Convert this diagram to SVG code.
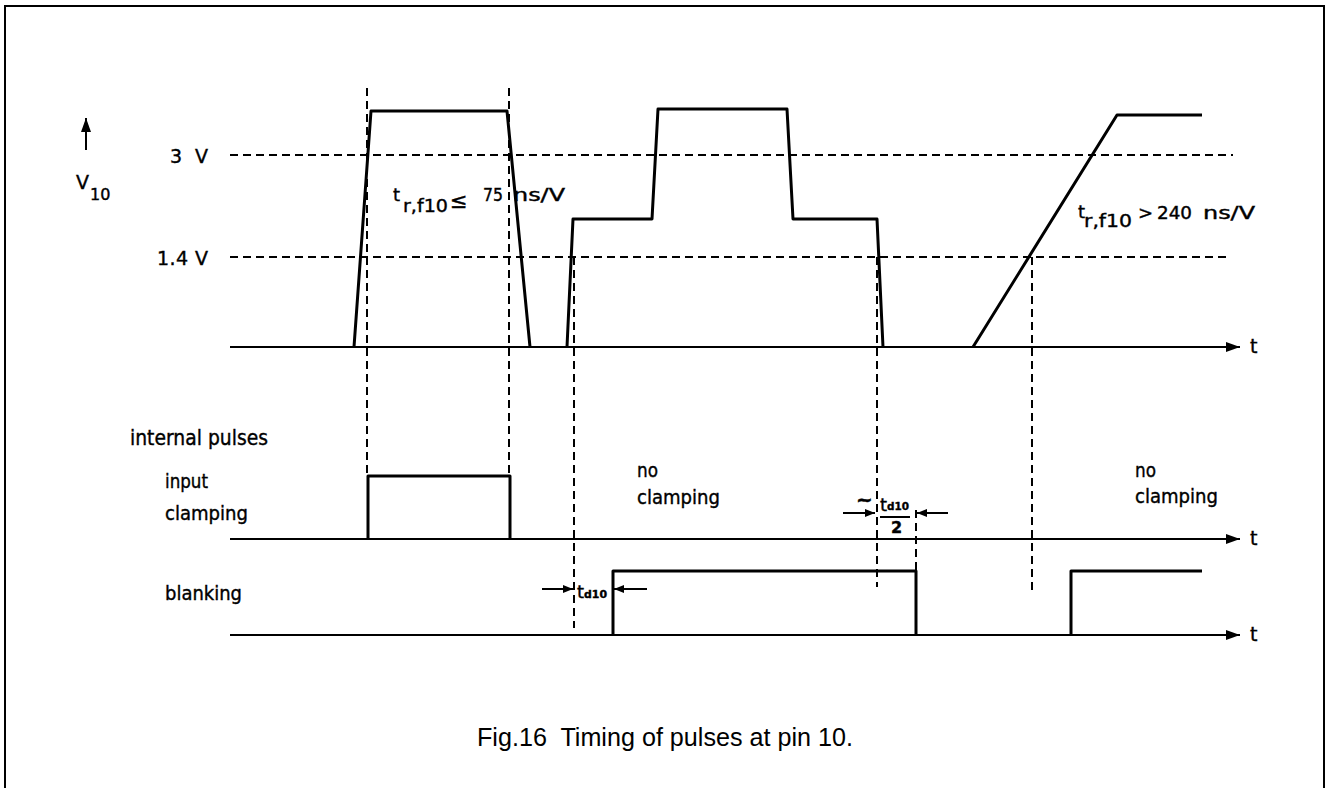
<svg xmlns="http://www.w3.org/2000/svg" width="1326" height="788" viewBox="0 0 1326 788">
<style>
.sig{fill:none;stroke:#000;stroke-width:3;stroke-linejoin:round}
.axis{stroke:#000;stroke-width:2;fill:none}
.dash{stroke:#000;stroke-width:2;stroke-dasharray:8 5;fill:none}
.lbl{font-family:"DejaVu Sans","Liberation Sans",sans-serif;fill:#000;stroke:#000;stroke-width:0.4}
.cap{font-family:"Liberation Sans",Arial,sans-serif;fill:#000;font-size:25px}
</style>
<defs>
<marker id="ah" markerUnits="userSpaceOnUse" markerWidth="14" markerHeight="10" refX="14" refY="5" orient="auto">
<path d="M0,0 L14,5 L0,10 z" fill="#000"/>
</marker>
<marker id="sa" markerUnits="userSpaceOnUse" markerWidth="10" markerHeight="8" refX="10" refY="4" orient="auto">
<path d="M0,0 L10,4 L0,8 z" fill="#000"/>
</marker>
</defs>
<rect width="1326" height="788" fill="#fff"/>
<path d="M5,800 V6 H1324 V800" fill="none" stroke="#000" stroke-width="2"/>

<g id="connectors">
<line class="axis" x1="230" y1="347" x2="1240" y2="347" marker-end="url(#ah)"/>
<line class="axis" x1="230" y1="539" x2="1240" y2="539" marker-end="url(#ah)"/>
<line class="axis" x1="230" y1="635" x2="1240" y2="635" marker-end="url(#ah)"/>
<line class="axis" x1="86" y1="150" x2="86" y2="118" marker-end="url(#ah)"/>
<line class="dash" x1="230" y1="155" x2="1233" y2="155"/>
<line class="dash" x1="230" y1="257" x2="1227" y2="257"/>
<line class="dash" x1="367" y1="88" x2="367" y2="476"/>
<line class="dash" x1="509" y1="88" x2="509" y2="476"/>
<line class="dash" x1="574" y1="257" x2="574" y2="628"/>
<line class="dash" x1="877" y1="257" x2="877" y2="587"/>
<line class="dash" x1="916" y1="510" x2="916" y2="571"/>
<line class="dash" x1="1032" y1="257" x2="1032" y2="590"/>
<line class="axis" x1="542" y1="589" x2="573" y2="589" marker-end="url(#sa)"/>
<line class="axis" x1="647" y1="589" x2="614" y2="589" marker-end="url(#sa)"/>
<line class="axis" x1="843" y1="513" x2="875" y2="513" marker-end="url(#sa)"/>
<line class="axis" x1="948" y1="513" x2="917" y2="513" marker-end="url(#sa)"/>
<line class="axis" x1="880" y1="517" x2="910" y2="517"/>
</g>

<g id="v10-signal">
<path class="sig" d="M354,347 L371,111 L507,111 L530,347"/>
<path class="sig" d="M567,347 L573,219 L652,219 L658,109 L787,109 L793,219 L877,219 L883,347"/>
<path class="sig" d="M973,347 L1117,115 L1202,115"/>
</g>
<g id="clamping-signal">
<path class="sig" d="M368,539 V476 H510 V539"/>
</g>
<g id="blanking-signal">
<path class="sig" d="M613,635 V571 H916 V635"/>
<path class="sig" d="M1071,635 V571 H1202"/>
</g>

<g id="labels" class="lbl">
<text x="170" y="163" font-size="19" textLength="38" lengthAdjust="spacing">3 V</text>
<text x="157" y="265" font-size="19" textLength="51" lengthAdjust="spacing">1.4 V</text>
<text x="76" y="189" font-size="19">V</text>
<text x="90" y="200" font-size="16">10</text>
<text x="393" y="201" font-size="18">t</text>
<text x="403" y="212" font-size="18" textLength="45" lengthAdjust="spacingAndGlyphs">r,f10</text>
<text x="450" y="208" font-size="21">≤</text>
<text x="483" y="201" font-size="17" textLength="20" lengthAdjust="spacingAndGlyphs">75</text>
<text x="513" y="201" font-size="17" textLength="52" lengthAdjust="spacingAndGlyphs">ns/V</text>
<text x="1078" y="218" font-size="18">t</text>
<text x="1084" y="227" font-size="18" textLength="48" lengthAdjust="spacingAndGlyphs">r,f10</text>
<text x="1138" y="219" font-size="18">&gt;</text>
<text x="1157" y="219" font-size="17" textLength="35" lengthAdjust="spacingAndGlyphs">240</text>
<text x="1203" y="219" font-size="17" textLength="52" lengthAdjust="spacingAndGlyphs">ns/V</text>
<text x="1250" y="353" font-size="19">t</text>
<text x="1250" y="545" font-size="19">t</text>
<text x="1250" y="641" font-size="19">t</text>
<text x="130" y="445" font-size="21" textLength="138" lengthAdjust="spacingAndGlyphs">internal pulses</text>
<text x="165" y="488" font-size="20" textLength="43" lengthAdjust="spacingAndGlyphs">input</text>
<text x="165" y="520" font-size="20" textLength="83" lengthAdjust="spacingAndGlyphs">clamping</text>
<text x="165" y="600" font-size="20" textLength="77" lengthAdjust="spacingAndGlyphs">blanking</text>
<text x="637" y="477" font-size="20" textLength="21" lengthAdjust="spacingAndGlyphs">no</text>
<text x="637" y="504" font-size="20" textLength="83" lengthAdjust="spacingAndGlyphs">clamping</text>
<text x="1135" y="477" font-size="20" textLength="21" lengthAdjust="spacingAndGlyphs">no</text>
<text x="1135" y="503" font-size="20" textLength="83" lengthAdjust="spacingAndGlyphs">clamping</text>
<text x="577" y="598" font-size="18">t</text>
<text x="584" y="598" font-size="11" font-weight="bold" textLength="23" lengthAdjust="spacingAndGlyphs">d10</text>
<text x="856" y="506" font-size="20" font-weight="bold">~</text>
<text x="880" y="511" font-size="18">t</text>
<text x="887" y="510" font-size="11" font-weight="bold" textLength="22" lengthAdjust="spacingAndGlyphs">d10</text>
<text x="891" y="533" font-size="16" font-weight="bold">2</text>
</g>
<text class="cap" x="477" y="746" xml:space="preserve" textLength="376" lengthAdjust="spacingAndGlyphs">Fig.16  Timing of pulses at pin 10.</text>
</svg>
